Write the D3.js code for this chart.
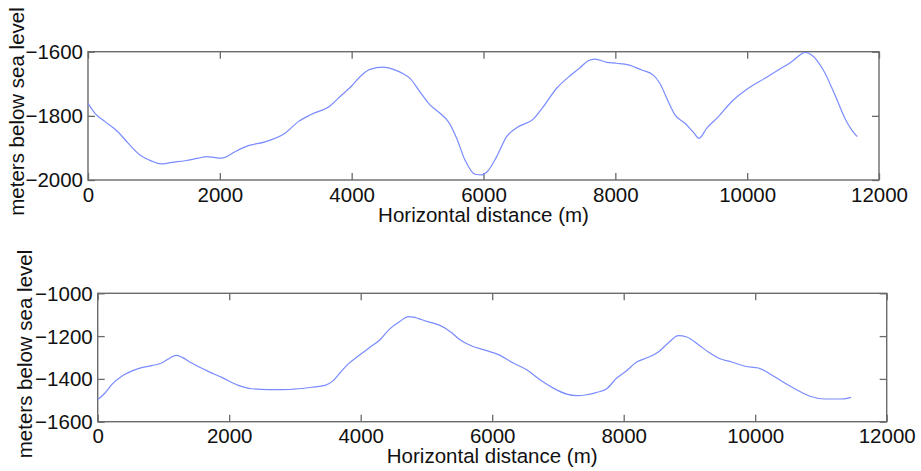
<!DOCTYPE html>
<html>
<head>
<meta charset="utf-8">
<script src="https://cdn.jsdelivr.net/npm/d3@7"></script>
<style>
  html, body { margin: 0; padding: 0; background: #fff; }
  svg { display: block; font-family: "Liberation Sans", Arial, sans-serif; }
</style>
</head>
<body>
<svg id="chart" width="921" height="471"></svg>
<script>
// Seafloor depth profiles along two survey lines
const xTicks = [0, 2000, 4000, 6000, 8000, 10000, 12000];

const topDistance = [0, 106, 258, 460, 612, 789, 966, 1107, 1270, 1471, 1673, 1800, 1927, 2028, 2104, 2230, 2432, 2685, 2988, 3191, 3393, 3671, 3848, 4000, 4126, 4278, 4480, 4632, 4783, 4885, 5036, 5188, 5340, 5466, 5593, 5719, 5871, 5972, 6048, 6200, 6351, 6503, 6756, 6908, 7110, 7312, 7464, 7590, 7691, 7869, 8020, 8197, 8399, 8576, 8677, 8804, 8905, 9057, 9183, 9269, 9385, 9562, 9764, 10017, 10270, 10472, 10675, 10801, 10877, 10978, 11155, 11332, 11484, 11585, 11670];
const topDepth = [-1761, -1792, -1818, -1851, -1886, -1922, -1941, -1950, -1945, -1940, -1932, -1927, -1930, -1932, -1927, -1912, -1893, -1881, -1854, -1818, -1795, -1769, -1735, -1707, -1678, -1655, -1648, -1655, -1669, -1683, -1725, -1766, -1792, -1818, -1870, -1938, -1982, -1984, -1976, -1927, -1865, -1837, -1810, -1771, -1714, -1675, -1650, -1628, -1623, -1633, -1636, -1641, -1657, -1673, -1699, -1756, -1797, -1823, -1851, -1870, -1839, -1803, -1756, -1714, -1683, -1657, -1631, -1610, -1602, -1610, -1657, -1735, -1808, -1844, -1865];
const topYTicks = [-2000, -1800, -1600];

const bottomDistance = [0, 111, 213, 365, 618, 821, 973, 1100, 1191, 1278, 1430, 1682, 1886, 2139, 2342, 2595, 2798, 3051, 3255, 3457, 3583, 3685, 3812, 3990, 4142, 4294, 4446, 4598, 4724, 4800, 5004, 5206, 5358, 5510, 5663, 5916, 6119, 6321, 6525, 6727, 6930, 7133, 7285, 7437, 7590, 7742, 7894, 8020, 8198, 8374, 8527, 8679, 8831, 8959, 9135, 9287, 9465, 9643, 9845, 10048, 10200, 10404, 10606, 10834, 11062, 11316, 11458];
const bottomDepth = [-1497, -1466, -1427, -1388, -1352, -1338, -1326, -1302, -1290, -1298, -1326, -1365, -1393, -1430, -1446, -1450, -1450, -1446, -1439, -1430, -1408, -1372, -1330, -1287, -1252, -1217, -1165, -1131, -1109, -1111, -1131, -1150, -1178, -1217, -1243, -1268, -1290, -1326, -1357, -1404, -1443, -1471, -1478, -1474, -1463, -1446, -1396, -1368, -1321, -1299, -1274, -1232, -1198, -1204, -1240, -1274, -1306, -1321, -1341, -1349, -1372, -1411, -1447, -1481, -1494, -1494, -1486];
const bottomYTicks = [-1600, -1400, -1200, -1000];

const xLabel = "Horizontal distance (m)";
const yLabel = "meters below sea level";

const svg = d3.select("#chart");
const FONT = 20.5;
const FRAME = "#6a6a6a";
const LINE = "#7a8cff";

function drawPanel(opt) {
  const { left, right, top, bottom, dist, depth, yDomain, yTicks, labelX, labelY, xLabelY } = opt;
  const x = d3.scaleLinear().domain([0, 12000]).range([left, right]);
  const y = d3.scaleLinear().domain(yDomain).range([bottom, top]);
  const g = svg.append("g");

  const styleAxis = sel => {
    sel.select(".domain").remove();
    sel.selectAll(".tick line").attr("stroke", FRAME).attr("stroke-width", 1.3);
    sel.selectAll(".tick text").attr("fill", "#111").style("font-size", FONT + "px")
      .style("font-family", "'Liberation Sans', Arial, sans-serif");
  };

  // inward tick marks on all four sides
  g.append("g").attr("transform", `translate(0,${bottom})`)
    .call(d3.axisBottom(x).tickValues(xTicks).tickFormat(d3.format("d"))
      .tickSizeInner(-7).tickSizeOuter(0).tickPadding(7))
    .call(styleAxis);
  g.append("g").attr("transform", `translate(0,${top})`)
    .call(d3.axisTop(x).tickValues(xTicks).tickFormat("").tickSizeInner(-7).tickSizeOuter(0))
    .call(styleAxis);
  g.append("g").attr("transform", `translate(${left},0)`)
    .call(d3.axisLeft(y).tickValues(yTicks).tickFormat(d3.format("d"))
      .tickSizeInner(-7).tickSizeOuter(0).tickPadding(5))
    .call(styleAxis)
    .selectAll(".tick text").attr("dy", "0.34em");
  g.append("g").attr("transform", `translate(${right},0)`)
    .call(d3.axisRight(y).tickValues(yTicks).tickFormat("").tickSizeInner(-7).tickSizeOuter(0))
    .call(styleAxis);

  // box frame
  g.append("rect")
    .attr("x", left).attr("y", top)
    .attr("width", right - left).attr("height", bottom - top)
    .attr("fill", "none").attr("stroke", FRAME).attr("stroke-width", 1.4);

  // depth profile
  const pts = dist.map((d, i) => [d, depth[i]]);
  g.append("path")
    .datum(pts)
    .attr("fill", "none")
    .attr("stroke", LINE)
    .attr("stroke-width", 1.2)
    .attr("stroke-linejoin", "round")
    .attr("d", d3.line().x(d => x(d[0])).y(d => y(d[1])).curve(d3.curveMonotoneX));

  // axis titles
  g.append("text")
    .attr("x", (left + right) / 2).attr("y", xLabelY)
    .attr("text-anchor", "middle")
    .attr("fill", "#111")
    .style("font-size", FONT + "px")
    .text(xLabel);
  g.append("text")
    .attr("transform", `translate(${labelX},${labelY}) rotate(-90)`)
    .attr("text-anchor", "middle")
    .attr("fill", "#111")
    .style("font-size", FONT + "px")
    .text(yLabel);
}

drawPanel({
  left: 88, right: 879, top: 51.7, bottom: 180,
  dist: topDistance, depth: topDepth,
  yDomain: [-2000, -1600], yTicks: topYTicks,
  labelX: 24, labelY: 111.5, xLabelY: 221.5
});

drawPanel({
  left: 97.7, right: 886.7, top: 293.3, bottom: 421.7,
  dist: bottomDistance, depth: bottomDepth,
  yDomain: [-1600, -1000], yTicks: bottomYTicks,
  labelX: 31.5, labelY: 354, xLabelY: 463
});
</script>
</body>
</html>
